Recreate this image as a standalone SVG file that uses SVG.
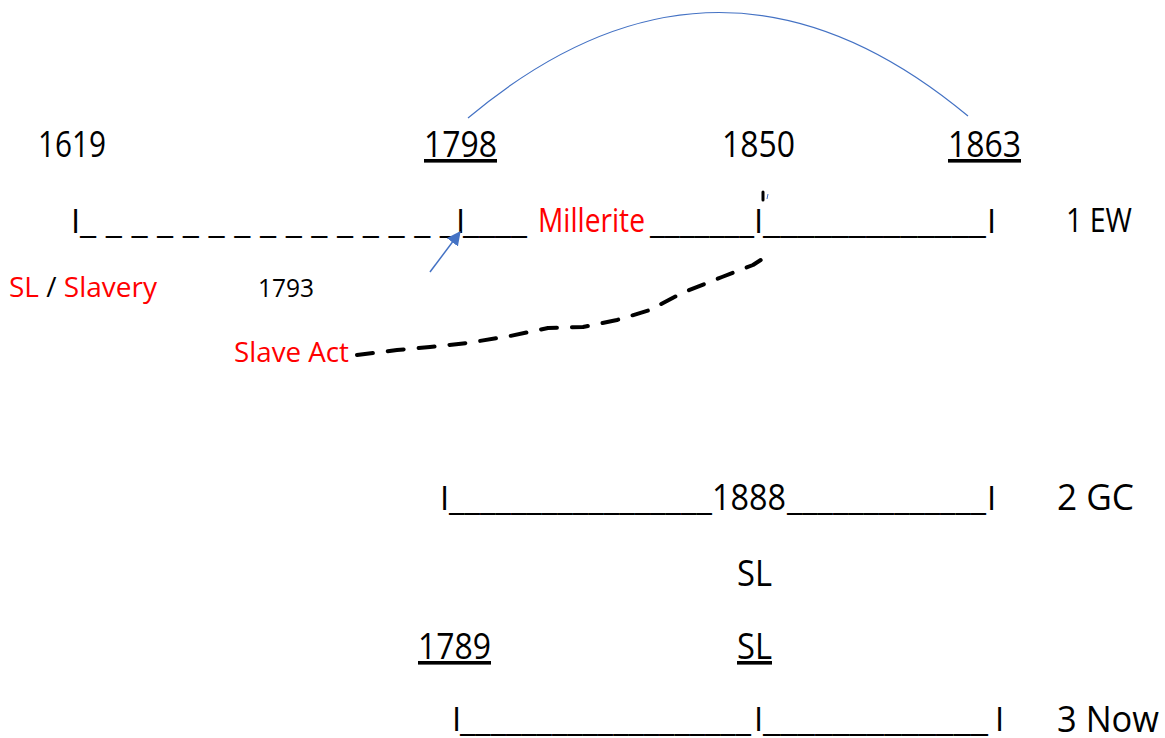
<svg xmlns="http://www.w3.org/2000/svg" width="1165" height="738" viewBox="0 0 1165 738">
<style>
text{font-family:"Open Sans","Noto Sans","Liberation Sans",sans-serif;fill:#000}
.b{font-size:36px}
.m{font-size:33px}
.s{font-size:28px}
.xs{font-size:25px}
.r{fill:#FF0000}
.u{text-decoration:underline}
</style>
<defs>
<marker id="ah2" viewBox="0 0 12 12" refX="11" refY="6" markerWidth="14" markerHeight="14" orient="auto" markerUnits="userSpaceOnUse">
<path d="M0,0 L12,6 L0,12 z" fill="#4472C4"/>
</marker>
</defs>
<rect width="1165" height="738" fill="#fff"/>

<g id="years-top">
<text class="b" x="38" y="157" textLength="68" lengthAdjust="spacingAndGlyphs">1619</text>
<text class="b u" x="424" y="157" textLength="73" lengthAdjust="spacingAndGlyphs">1798</text>
<text class="b" x="722" y="157" textLength="73" lengthAdjust="spacingAndGlyphs">1850</text>
<text class="b u" x="948" y="157" textLength="73" lengthAdjust="spacingAndGlyphs">1863</text>
</g>

<g id="timeline-1">
<text class="m" y="233"><tspan x="71">I</tspan><tspan x="80" textLength="376" lengthAdjust="spacingAndGlyphs">_ _ _ _ _ _ _ _ _ _ _ _ _ _ _</tspan><tspan x="456">I</tspan><tspan x="463" textLength="64" lengthAdjust="spacingAndGlyphs">____</tspan></text>
<text class="m r" x="538" y="232" textLength="107" lengthAdjust="spacingAndGlyphs">Millerite</text>
<text class="m" y="233"><tspan x="650" textLength="104" lengthAdjust="spacingAndGlyphs">_______</tspan><tspan x="754">I</tspan><tspan x="763" textLength="223" lengthAdjust="spacingAndGlyphs">_____________</tspan><tspan x="987">I</tspan></text>
<text class="m" x="1066" y="232" textLength="66" lengthAdjust="spacingAndGlyphs">1 EW</text>
</g>

<g id="labels-1">
<text class="s" x="9" y="297"><tspan class="r">SL</tspan> / <tspan class="r">Slavery</tspan></text>
<text class="xs" x="258" y="297" textLength="56" lengthAdjust="spacingAndGlyphs">1793</text>
<text class="s r" x="234" y="362" textLength="115" lengthAdjust="spacingAndGlyphs">Slave Act</text>
</g>

<g id="timeline-2">
<text class="m" y="510"><tspan x="440">I</tspan><tspan x="449" textLength="263" lengthAdjust="spacingAndGlyphs">_________________</tspan><tspan x="712" style="font-size:36px" textLength="74" lengthAdjust="spacingAndGlyphs">1888</tspan><tspan x="787" textLength="199" lengthAdjust="spacingAndGlyphs">_____________</tspan><tspan x="987">I</tspan></text>
<text class="b" x="1057" y="510" textLength="77" lengthAdjust="spacingAndGlyphs">2 GC</text>
</g>

<g id="sl-labels">
<text class="b" x="737" y="586" textLength="35" lengthAdjust="spacingAndGlyphs">SL</text>
<text class="b u" x="418" y="659" textLength="73" lengthAdjust="spacingAndGlyphs">1789</text>
<text class="b u" x="737" y="659" textLength="35" lengthAdjust="spacingAndGlyphs">SL</text>
</g>

<g id="timeline-3">
<text class="m" y="731"><tspan x="452">I</tspan><tspan x="460" textLength="291" lengthAdjust="spacingAndGlyphs">___________________</tspan><tspan x="754">I</tspan><tspan x="763" textLength="225" lengthAdjust="spacingAndGlyphs">_____________</tspan><tspan x="995">I</tspan></text>
<text class="b" x="1057" y="732" textLength="102" lengthAdjust="spacingAndGlyphs">3 Now</text>
</g>

<g id="connectors" fill="none">
<path d="M468,118 Q718,-92 968,116" stroke="#4472C4" stroke-width="1.2"/>
<line x1="430" y1="272" x2="460" y2="232" stroke="#4472C4" stroke-width="1.5" marker-end="url(#ah2)"/>
<path d="M357,355 L397,350 L430,347 L467,343 L510,336 L548,328 L583,327 L617,320 L650,310 L682,293 L722,277 L753,265 L773,252" stroke="#000" stroke-width="4" stroke-dasharray="16,15" stroke-linecap="round" stroke-linejoin="round"/>
<line x1="763" y1="192" x2="763" y2="200" stroke="#000" stroke-width="3" stroke-linecap="round"/>
<line x1="767" y1="199" x2="768" y2="194" stroke="#4472C4" stroke-width="1"/>
</g>
</svg>
